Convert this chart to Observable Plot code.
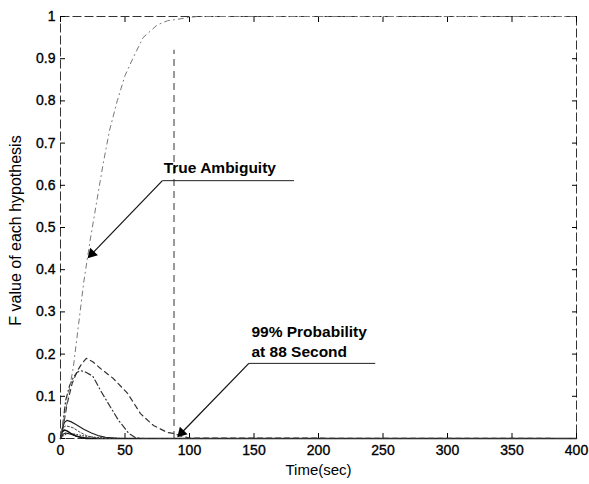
<!DOCTYPE html>
<html><head><meta charset="utf-8">
<script src="https://cdn.jsdelivr.net/npm/d3@7"></script>
<script src="https://cdn.jsdelivr.net/npm/@observablehq/plot@0.6"></script>
<style>
html,body{margin:0;padding:0;background:#fff;}
#chart svg{display:block;font-family:"Liberation Sans",Arial,sans-serif;}
#chart svg g[aria-label*="tick label"] text{fill:#000 !important;stroke:#000;stroke-width:0.35px;}
</style>
</head><body><div id="chart"></div>
<script>
// ---- data ----
const yTicks = [0,0.1,0.2,0.3,0.4,0.5,0.6,0.7,0.8,0.9,1];
const xTicks = [0,50,100,150,200,250,300,350,400];

// true ambiguity (rises to 1)
const trueT = [0,3,6,10,14,18,23,28,33,38,44,50,56,64,75,83,90,100,106,150,200,250,300,350,400];
const trueF = [0.01,0.05,0.1,0.17,0.27,0.37,0.47,0.56,0.65,0.73,0.8,0.86,0.9,0.95,0.98,0.99,0.993,0.998,1,1,1,1,1,1,1];
// competing hypothesis, peak ~0.19
const hBT = [0,1,2.5,5,9,13,16,20,25,31,41,52,62,72,83,88,93,100,400];
const hBF = [0,0.01,0.035,0.08,0.13,0.16,0.175,0.19,0.182,0.166,0.142,0.107,0.059,0.031,0.014,0.012,0.006,0.001,0];
// competing hypothesis, peak ~0.16
const hCT = [0,1,2,4,7,10,13,15.5,19,25,31,39,45,53,58,65,400];
const hCF = [0,0.01,0.04,0.09,0.125,0.145,0.157,0.161,0.158,0.148,0.114,0.073,0.043,0.012,0.002,0,0];
// small hypotheses near zero
const hDT = [0,1,3,5,8,12,18,24,29,35,45,400];
const hDF = [0,0.02,0.038,0.043,0.04,0.033,0.022,0.013,0.007,0.003,0,0];
const hET = [0,2,4,7,10,15,20,25,30,400];
const hEF = [0,0.025,0.03,0.028,0.025,0.015,0.007,0.003,0,0];
const hFT = [0,1,3,5,8,12,16,20,400];
const hFF = [0,0.015,0.02,0.018,0.012,0.006,0.002,0,0];
const hGT = [0,2,4,8,12,18,25,400];
const hGF = [0,0.01,0.013,0.01,0.006,0.002,0,0];
const hHT = [0,3,6,10,15,20,30,40,50,400];
const hHF = [0,0.008,0.012,0.011,0.008,0.005,0.002,0.001,0,0];

const decisionTime = [88];
const decisionTop = 0.92;

// annotations: text position, line start, line end, arrow tip
const annTexts = ["True Ambiguity", "99% Probability\nat 88 Second"];
const annTextT = [80, 148];
const annTextF = [0.63, 0.192];
const annStartT = [79, 146];
const annStartF = [0.611, 0.178];
const annEndT = [181, 244];
const annTipT = [21, 90.5];
const annTipF = [0.427, 0.003];

// ---- build ----
const W = 589, H = 484, mL = 60, mR = 13, mT = 16, mB = 46;
const series = (T, F) => T.map((t, i) => ({t, f: F[i]}));
const pxPerT = (W - mL - mR) / 400, pxPerF = (H - mT - mB) / 1;

const anns = annTexts.map((s, i) => {
  const dxp = (annTipT[i] - annStartT[i]) * pxPerT;
  const dyp = -(annTipF[i] - annStartF[i]) * pxPerF;
  const len = Math.hypot(dxp, dyp);
  const back = 6.2;
  return {
    text: s, tx: annTextT[i], ty: annTextF[i],
    x1: annStartT[i], y1: annStartF[i], x2: annEndT[i],
    headT: annTipT[i] - (dxp / len) * back / pxPerT,
    headF: annTipF[i] + (dyp / len) * back / pxPerF,
    rot: Math.atan2(dxp, -dyp) * 180 / Math.PI
  };
});

const fmt = d => d === 0 ? "0" : d === 1 ? "1" : d.toFixed(1);
const ink = "#000";

const plot = Plot.plot({
  width: W, height: H,
  marginLeft: mL, marginRight: mR, marginTop: mT, marginBottom: mB,
  style: {fontFamily: '"Liberation Sans", Arial, sans-serif', fontSize: "14px", background: "#fff", color: ink},
  x: {domain: [0, 400]},
  y: {domain: [0, 1]},
  marks: [
    Plot.frame({stroke: "#333", strokeWidth: 1, strokeDasharray: "9,3"}),
    Plot.axisY({ticks: yTicks, tickSize: -5, tickPadding: 10, tickFormat: fmt, fontSize: 14, label: null, fill: ink, stroke: ink}),
    Plot.axisY({anchor: "right", ticks: yTicks, tickSize: -5, tickFormat: () => "", label: null, stroke: ink}),
    Plot.axisX({ticks: xTicks, tickSize: -5, tickPadding: 12, tickFormat: d => String(d), fontSize: 14, label: null, fill: ink, stroke: ink}),
    Plot.axisX({anchor: "top", ticks: xTicks, tickSize: -5, tickFormat: () => "", label: null, stroke: ink}),
    Plot.ruleX(decisionTime, {y1: 0, y2: decisionTop, stroke: "#333", strokeDasharray: "7,5"}),
    Plot.line(series(hHT, hHF), {x: "t", y: "f", stroke: "#333", strokeWidth: 1, strokeDasharray: "1,2"}),
    Plot.line(series(hGT, hGF), {x: "t", y: "f", stroke: "#222", strokeWidth: 1.2}),
    Plot.line(series(hFT, hFF), {x: "t", y: "f", stroke: "#111", strokeWidth: 1.5}),
    Plot.line(series(hET, hEF), {x: "t", y: "f", stroke: "#444", strokeWidth: 1, strokeDasharray: "2,2"}),
    Plot.line(series(hDT, hDF), {x: "t", y: "f", stroke: "#222", strokeWidth: 1.2}),
    Plot.line(series(hCT, hCF), {x: "t", y: "f", stroke: "#333", strokeWidth: 1.2, strokeDasharray: "6,3,1,3"}),
    Plot.line(series(hBT, hBF), {x: "t", y: "f", stroke: "#333", strokeWidth: 1.2, strokeDasharray: "5,4"}),
    Plot.line(series(trueT, trueF), {x: "t", y: "f", stroke: "#777", strokeWidth: 1, strokeDasharray: "5,4,1,4"}),
    // annotations
    Plot.link(anns, {x1: "x1", y1: "y1", x2: "x2", y2: "y1", stroke: "#222", strokeWidth: 1}),
    Plot.link(anns, {x1: "x1", y1: "y1", x2: "headT", y2: "headF", stroke: "#111", strokeWidth: 1.2}),
    Plot.dot(anns, {x: "headT", y: "headF", symbol: "triangle", r: 4, fill: "#000", stroke: "none", rotate: "rot"}),
    Plot.text(anns, {x: "tx", y: "ty", text: "text", textAnchor: "start", lineAnchor: "bottom", fontSize: 15.5, fontWeight: "bold", fill: "#000", lineHeight: 1.3}),
    // axis titles
    Plot.text(["F value of each hypothesis"], {frameAnchor: "left", dx: -45, dy: 3, rotate: -90, textAnchor: "middle", lineAnchor: "middle", fontSize: 16, fill: "#000"}),
    Plot.text(["Time(sec)"], {frameAnchor: "bottom", dy: 32, textAnchor: "middle", lineAnchor: "middle", fontSize: 15, fill: "#000"})
  ]
});
document.getElementById("chart").appendChild(plot);
</script>
</body></html>
